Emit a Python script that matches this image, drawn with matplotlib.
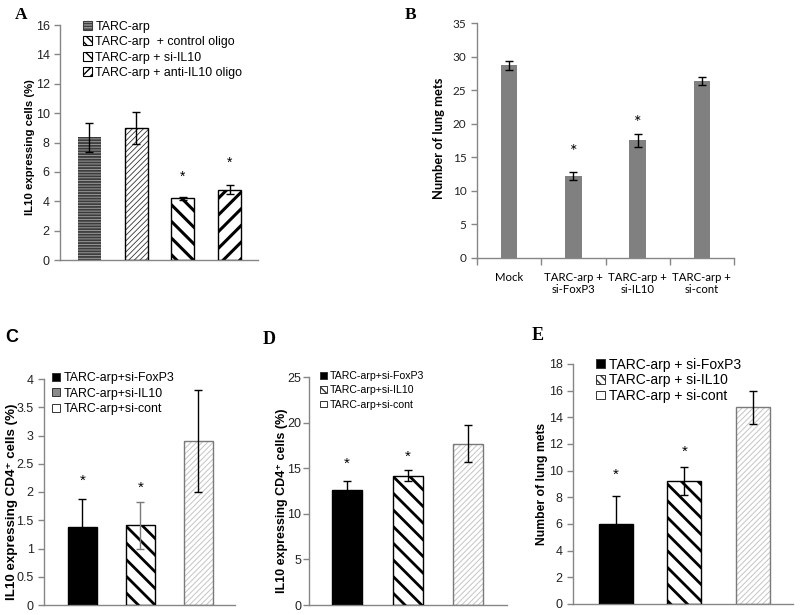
import matplotlib
matplotlib.use('Agg')
import matplotlib.pyplot as plt
from matplotlib.patches import Patch

# ---- data ----
# panel A
a_labels = ['TARC-arp', 'TARC-arp  + control oligo', 'TARC-arp + si-IL10', 'TARC-arp + anti-IL10 oligo']
a_vals = [8.35, 9.0, 4.2, 4.8]
a_errs = [1.0, 1.1, 0.1, 0.3]
a_stars = [None, None, 5.65, 6.6]

# panel B
b_cats = ['Mock', 'TARC-arp +\nsi-FoxP3', 'TARC-arp +\nsi-IL10', 'TARC-arp +\nsi-cont']
b_vals = [28.7, 12.2, 17.5, 26.4]
b_errs = [0.7, 0.6, 1.0, 0.6]
b_stars = [None, 15.8, 20.1, None]

# panel C
c_labels = ['TARC-arp+si-FoxP3', 'TARC-arp+si-IL10', 'TARC-arp+si-cont']
c_vals = [1.38, 1.41, 2.9]
c_errs = [0.5, 0.42, 0.9]
c_stars = [2.19, 2.07, None]

# panel D
d_labels = ['TARC-arp+si-FoxP3', 'TARC-arp+si-IL10', 'TARC-arp+si-cont']
d_vals = [12.6, 14.15, 17.7]
d_errs = [1.0, 0.6, 2.0]
d_stars = [15.5, 16.2, None]

# panel E
e_labels = ['TARC-arp + si-FoxP3', 'TARC-arp + si-IL10', 'TARC-arp + si-cont']
e_vals = [6.0, 9.25, 14.75]
e_errs = [2.1, 1.05, 1.25]
e_stars = [9.7, 11.4, None]

W, H = 800, 615
SANS = ['Liberation Sans', 'DejaVu Sans']
SERIF = ['Liberation Serif', 'DejaVu Serif']
CAL = ['Lato', 'DejaVu Sans']
AXC = '#868686'

fig = plt.figure(figsize=(W / 100, H / 100), dpi=100)


def make_ax(left, right, top, bottom, pad=3.5):
    ax = fig.add_axes([left / W, 1 - bottom / H, (right - left) / W, (bottom - top) / H])
    for s in ['top', 'right']:
        ax.spines[s].set_visible(False)
    for s in ['left', 'bottom']:
        ax.spines[s].set_color(AXC)
        ax.spines[s].set_linewidth(1.0)
    ax.tick_params(axis='y', direction='out', length=4, color=AXC, width=1, labelcolor='#222222', pad=pad)
    ax.tick_params(axis='x', length=0)
    return ax


def ylab(x, y, text, size, family=SANS):
    fig.text(x / W, 1 - y / H, text, rotation=90, ha='center', va='center',
             fontsize=size, fontweight='bold', family=family)


def hatched_bars(ax, x, vals, width, styles):
    # styles: (face, hatch, hatch colour, hatch lw, edge colour)
    for xi, v, (face, hatch, hc, hlw, ec) in zip(x, vals, styles):
        with plt.rc_context({'hatch.linewidth': hlw}):
            ax.bar(xi, v, width, color=face, edgecolor=hc, hatch=hatch, linewidth=0, zorder=2)
        if ec is not None:
            ax.bar(xi, v, width, fill=False, edgecolor=ec, linewidth=1.0, zorder=3)


def stars(ax, x, st, size=10, family=SANS):
    for xi, s in zip(x, st):
        if s is not None:
            ax.text(xi, s, '*', ha='center', va='center', fontsize=size, family=family)


def set_ticklabels(ax, family, size):
    for t in ax.get_yticklabels():
        t.set_family(family)
        t.set_fontsize(size)


# ---------------- A ----------------
axA = make_ax(60, 258, 25, 260)
xa = list(range(len(a_vals)))
styA = [('#9a9a9a', '------', '#3c3c3c', 1.3, None),
        ('white', '//////', '#333333', 0.6, 'black'),
        ('white', '\\\\', 'black', 2.2, 'black'),
        ('white', '//', 'black', 2.2, 'black')]
hatched_bars(axA, xa, a_vals, 0.49, styA)
axA.errorbar(xa, a_vals, yerr=a_errs, fmt='none', ecolor='black', elinewidth=1, capsize=3, zorder=4)
stars(axA, xa, a_stars, 10)
axA.set_xlim(-0.63, 3.61)
axA.set_ylim(0, 16)
axA.set_yticks(range(0, 17, 2))
axA.set_xticks([])
set_ticklabels(axA, SANS, 9)
ylab(30, 147, 'IL10 expressing cells (%)', 8.2)
legA_sty = [('#9a9a9a', '------', '#3c3c3c'), ('white', '\\\\\\\\', 'black'),
            ('white', '\\\\\\', 'black'), ('white', '////', 'black')]
hA = [Patch(facecolor=f, edgecolor=c, hatch=h, linewidth=0.8, label=l) for (f, h, c), l in zip(legA_sty, a_labels)]
axA.legend(handles=hA, loc='upper left', bbox_to_anchor=(0.085, 1.045),
           frameon=False, handlelength=0.7, handleheight=0.7, handletextpad=0.3,
           labelspacing=0.28, borderpad=0, prop={'family': SANS, 'size': 8.9})
fig.text(15 / W, 1 - 15 / H, 'A', family=SERIF, fontweight='bold', fontsize=12.5, va='center')

# ---------------- B ----------------
axB = make_ax(477, 734, 23, 258)
xb = list(range(len(b_vals)))
axB.bar(xb, b_vals, 0.26, color='#808080', zorder=2)
axB.errorbar(xb, b_vals, yerr=b_errs, fmt='none', ecolor='black', elinewidth=1, capsize=3, zorder=4)
stars(axB, xb, b_stars, 13, CAL)
axB.set_xlim(-0.5, 3.5)
axB.set_ylim(0, 35)
axB.set_yticks(range(0, 36, 5))
axB.set_xticks(xb)
axB.set_xticklabels(b_cats, family=CAL, fontsize=8.2, linespacing=1.15)
axB.set_xticks([-0.5, 0.5, 1.5, 2.5, 3.5], minor=True)
axB.tick_params(axis='x', which='minor', length=5, color=AXC, width=1, direction='out')
axB.tick_params(axis='x', which='major', pad=10)
set_ticklabels(axB, CAL, 8.5)
ylab(439, 138, 'Number of lung mets', 9.3, CAL)
fig.text(405 / W, 1 - 15 / H, 'B', family=SERIF, fontweight='bold', fontsize=12.5, va='center')

# ---------------- C, D, E ----------------
sty3 = [('black', None, 'black', 1.0, 'black'),
        ('white', '\\\\', 'black', 2.0, 'black'),
        ('white', '//////', '#c4c4c4', 0.7, '#7a7a7a')]


def lower_panel(box, vals, errs, st, ymax, ystep, xl, labels, leg_sty, leg_anchor, fs, lsp, ecolors, pad=3.5):
    ax = make_ax(*box, pad=pad)
    x = list(range(len(vals)))
    hatched_bars(ax, x, vals, 0.5, sty3)
    for xi, v, e, c in zip(x, vals, errs, ecolors):
        ax.errorbar(xi, v, yerr=e, fmt='none', ecolor=c, elinewidth=1, capsize=3, zorder=4)
    stars(ax, x, st, 11)
    ax.set_xlim(*xl)
    ax.set_ylim(0, ymax)
    n = int(round(ymax / ystep))
    ax.set_yticks([i * ystep for i in range(n + 1)])
    ax.set_yticklabels(['%g' % (i * ystep) for i in range(n + 1)])
    ax.set_xticks([])
    set_ticklabels(ax, SANS, 9)
    hs = [Patch(facecolor=f, edgecolor='#333333', hatch=h, linewidth=0.7, label=l)
          for (f, h), l in zip(leg_sty, labels)]
    ax.legend(handles=hs, loc='upper left', bbox_to_anchor=leg_anchor, frameon=False,
              handlelength=0.6, handleheight=0.6, handletextpad=0.3, labelspacing=lsp, borderpad=0,
              prop={'family': SANS, 'size': fs})
    return ax


leg_c = [('black', None), ('#8a8a8a', None), ('white', None)]
leg_de = [('black', None), ('white', '\\\\\\\\'), ('white', None)]

axC = lower_panel((44, 235, 379, 605), c_vals, c_errs, c_stars, 4, 0.5, (-0.66, 2.63), c_labels, leg_c,
                  (0.01, 1.058), 8.9, 0.28, ['black', '#7a7a7a', 'black'])
ylab(12, 502, 'IL10 expressing CD4\u207a cells (%)', 9.6)
fig.text(5 / W, 1 - 338 / H, 'C', family=SANS, fontweight='bold', fontsize=13, va='center')

axD = lower_panel((309, 507, 377, 605), d_vals, d_errs, d_stars, 25, 5, (-0.63, 2.64), d_labels, leg_de,
                  (0.03, 1.05), 7.6, 0.42, ['black', 'black', 'black'], pad=1.5)
ylab(282, 501, 'IL10 expressing CD4\u207a cells (%)', 9.0)
fig.text(263 / W, 1 - 340 / H, 'D', family=SERIF, fontweight='bold', fontsize=13, va='center')

axE = lower_panel((573, 793, 364, 604), e_vals, e_errs, e_stars, 18, 2, (-0.63, 2.59), e_labels, leg_de,
                  (0.075, 1.056), 10.0, 0.12, ['black', 'black', 'black'])
ylab(542, 484, 'Number of lung mets', 8.7)
fig.text(532 / W, 1 - 335 / H, 'E', family=SERIF, fontweight='bold', fontsize=13, va='center')

fig.savefig('out.png', dpi=100)
